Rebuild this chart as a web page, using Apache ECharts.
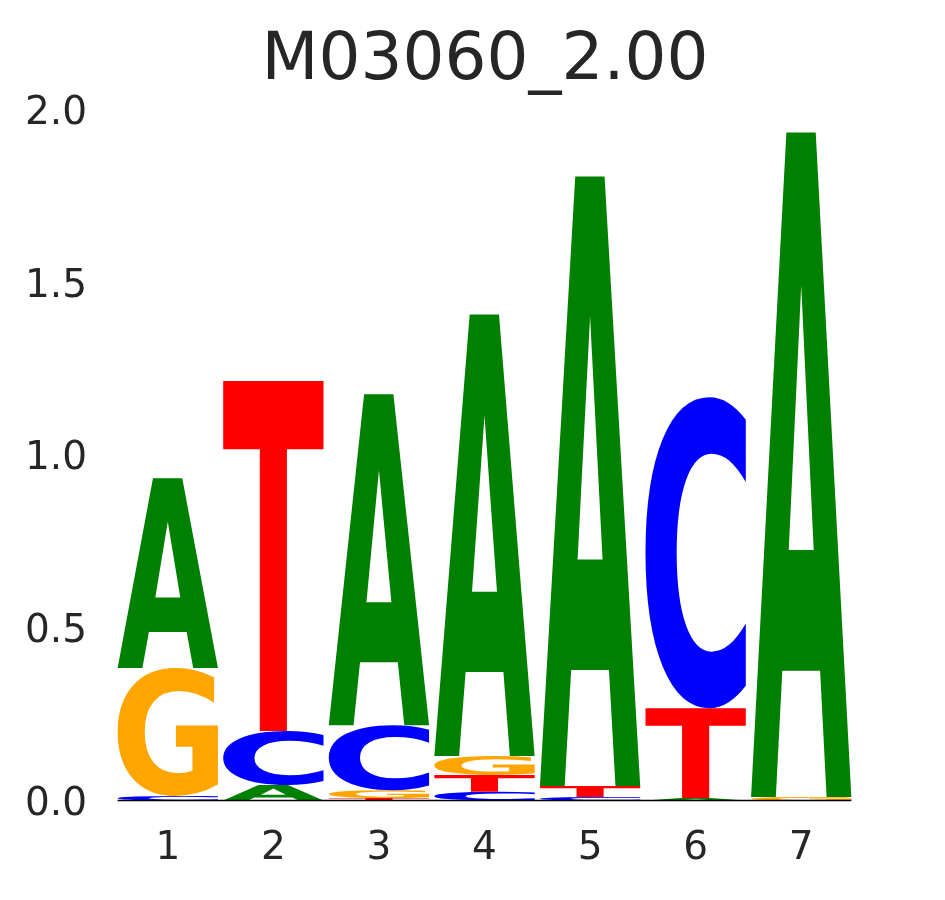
<!DOCTYPE html>
<html>
<head>
<meta charset="utf-8">
<script src="https://cdn.jsdelivr.net/npm/echarts@6/dist/echarts.min.js"></script>
<style>html,body{margin:0;padding:0;background:#fff;}#c{width:945px;height:900px;}</style>
</head>
<body>
<div id="c"></div>
<script>
// ---- data ----
const title = 'M03060_2.00';
const positions = ['1', '2', '3', '4', '5', '6', '7'];
const letters = ['A', 'C', 'G', 'T'];
const valuesA = [0.549, 0.045, 0.957, 1.277, 1.763, 0.007, 1.922];
const valuesC = [0.013, 0.156, 0.188, 0.025, 0.010, 0.899, 0.000];
const valuesG = [0.370, 0.000, 0.023, 0.055, 0.000, 0.000, 0.010];
const valuesT = [0.000, 1.012, 0.007, 0.049, 0.032, 0.260, 0.000];
const yTicks = [0, 0.5, 1.0, 1.5, 2.0];

// ---- styles ----
const colors = { A: '#008000', C: '#0000ff', G: '#ffa500', T: '#ff0000' };
const glyphs = {
  A: 'M66,1500 L578,7 L1003,7 L1520,1500 L1161,1500 L1067,1216 L519,1216 L425,1500 Z M612,945 L974,945 L793,350 Z',
  T: 'M10,7 L1386,7 L1386,298 L884,298 L884,1500 L512,1500 L512,298 L10,298 Z',
  C: 'M1319,1418 Q1215,1472 1103,1499 Q991,1527 869,1527 Q505,1527 293,1324 Q81,1120 81,771 Q81,421 293,218 Q505,15 869,15 Q991,15 1103,42 Q1215,69 1319,124 L1319,427 Q1214,355 1112,322 Q1010,289 897,289 Q696,289 581,418 Q466,546 466,771 Q466,995 581,1124 Q696,1252 897,1252 Q1010,1252 1112,1219 Q1214,1186 1319,1115 Z',
  G: 'M1489,1389 Q1350,1457 1201,1491 Q1052,1525 893,1525 Q533,1525 323,1324 Q113,1122 113,777 Q113,428 327,228 Q541,28 913,28 Q1057,28 1188,55 Q1319,82 1436,135 L1436,433 Q1315,364 1195,330 Q1075,296 954,296 Q729,296 607,422 Q485,548 485,777 Q485,1004 603,1131 Q721,1258 938,1258 Q997,1258 1047,1251 Q1098,1243 1139,1228 L1139,949 L913,949 L913,701 L1489,701 Z'
};

// build stacked letters (ascending order, bottom to top)
const valueSets = { A: valuesA, C: valuesC, G: valuesG, T: valuesT };
const stackData = [];
positions.forEach((p, i) => {
  const items = letters.map((l, li) => ({ l, li, v: valueSets[l][i] })).filter(o => o.v > 0);
  items.sort((a, b) => a.v - b.v);
  let acc = 0;
  items.forEach(o => {
    stackData.push([i, acc, acc + o.v, o.li]);
    acc += o.v;
  });
});

const FONT = 'DejaVu Sans';
const TXT = '#262626';
const chart = echarts.init(document.getElementById('c'), null, { renderer: 'canvas' });
chart.setOption({
  animation: false,
  backgroundColor: '#ffffff',
  title: {
    text: title,
    left: 480, top: 24, textAlign: 'center',
    textStyle: { fontFamily: FONT, fontSize: 66, fontWeight: 'normal', color: TXT }
  },
  grid: { left: 115, right: 91, top: 109, bottom: 99.5 },
  xAxis: {
    type: 'category', data: positions,
    axisLine: { show: false }, axisTick: { show: false }, splitLine: { show: false },
    axisLabel: { fontFamily: FONT, fontSize: 39, color: TXT, margin: 29 }
  },
  yAxis: {
    type: 'value', min: yTicks[0], max: yTicks[yTicks.length - 1], interval: 0.5,
    axisLine: { show: false }, axisTick: { show: false }, splitLine: { show: false },
    axisLabel: { fontFamily: FONT, fontSize: 39, color: TXT, margin: 28, verticalAlign: 'top', lineHeight: 9, formatter: v => v.toFixed(1) }
  },
  series: [
    {
      type: 'custom',
      data: stackData,
      encode: { x: 0, y: [1, 2] },
      renderItem: function (params, api) {
        const top = api.coord([api.value(0), api.value(2)]);
        const bot = api.coord([api.value(0), api.value(1)]);
        const bw = api.size([1, 0])[0] * 0.95;
        const l = letters[api.value(3)];
        return {
          type: 'path',
          shape: { pathData: glyphs[l], x: top[0] - bw / 2, y: top[1], width: bw, height: bot[1] - top[1], layout: 'cover' },
          style: { fill: colors[l] }
        };
      }
    },
    {
      type: 'custom',
      data: [[0, 0]],
      encode: { x: 0, y: 1 },
      renderItem: function (params, api) {
        const a = api.coord([0, 0]);
        const b = api.coord([positions.length - 1, 0]);
        const bw = api.size([1, 0])[0] * 0.95;
        return {
          type: 'line',
          shape: { x1: a[0] - bw / 2, y1: a[1], x2: b[0] + bw / 2, y2: b[1] },
          style: { stroke: '#000000', lineWidth: 1.5 }
        };
      }
    }
  ]
});
</script>
</body>
</html>
